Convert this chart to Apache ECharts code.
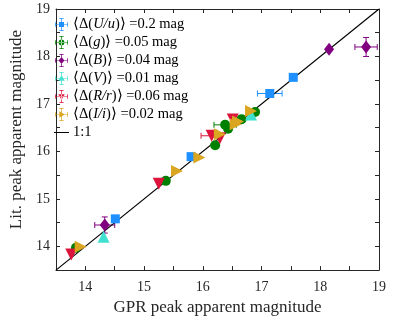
<!DOCTYPE html>
<html>
<head>
<meta charset="utf-8">
<script src="https://cdn.jsdelivr.net/npm/echarts@6/dist/echarts.min.js"></script>
<style>
  html, body { margin: 0; padding: 0; background: #fff; }
  #main { width: 395px; height: 321px; }
</style>
</head>
<body>
<div id="main"></div>
<script>
// data: [GPR mag, literature mag]
const uuPts = [[14.51, 14.58], [15.80, 15.89], [17.14, 17.22], [17.54, 17.56]]
const gPts  = [[13.84, 13.97], [15.37, 15.38], [16.21, 16.13], [16.38, 16.56], [16.43, 16.48], [16.66, 16.68], [16.89, 16.83]]
const bPts  = [[14.33, 14.45], [18.15, 18.15], [18.78, 18.20]]
const vPts  = [[14.31, 14.20], [16.82, 16.78]]
const rrPts = [[13.76, 13.83], [15.25, 15.32], [16.15, 16.33], [16.29, 16.28], [16.51, 16.67]]
const iiPts = [[13.92, 13.99], [15.56, 15.59], [15.94, 15.87], [16.29, 16.36], [16.56, 16.57], [16.60, 16.63], [16.82, 16.85]]

// error bars: [x, y, xerr, yerr]
const uuErr = [[17.14, 17.22, 0.21, 0]]
const gErr  = [[16.38, 16.56, 0.19, 0]]
const bErr  = [[14.33, 14.45, 0.17, 0.17], [18.78, 18.20, 0.19, 0.20]]
const rrErr = [[16.15, 16.33, 0.18, 0]]

const oneToOne = [[13.5, 13.5], [19, 19]]
const axisMin = 13.5
const axisMax = 19
const tickStep = 0.5

const legendLabels = {
  uu: '{a|⟨Δ(}{i|U/u}{a|)⟩ =0.2 mag}',
  g:  '{a|⟨Δ(}{i|g}{a|)⟩ =0.05 mag}',
  b:  '{a|⟨Δ(}{i|B}{a|)⟩ =0.04 mag}',
  v:  '{a|⟨Δ(}{i|V}{a|)⟩ =0.01 mag}',
  rr: '{a|⟨Δ(}{i|R/r}{a|)⟩ =0.06 mag}',
  ii: '{a|⟨Δ(}{i|I/i}{a|)⟩ =0.02 mag}',
  line: '{a|1:1}'
}

const colors = {
  uu: '#1e90ff', g: '#008000', b: '#800080',
  v: '#40e0d0', rr: '#dc143c', ii: '#daa520'
}

const font = 'Liberation Serif, Times New Roman, serif'
const axisColor = '#262626'

// legend icons: error bar cross with the marker in the middle
const cross = 'M1,9.5L19,9.5L19,10.5L1,10.5Z M9.5,1L10.5,1L10.5,19L9.5,19Z ' +
  'M1,7L2,7L2,13L1,13Z M18,7L19,7L19,13L18,13Z M7,1L13,1L13,2L7,2Z M7,18L13,18L13,19L7,19Z '
const icons = {
  uu: 'path://' + cross + 'M6.5,6.5L13.5,6.5L13.5,13.5L6.5,13.5Z',
  g:  'path://' + cross + 'M6,10A4,4 0 1,0 14,10A4,4 0 1,0 6,10Z',
  b:  'path://' + cross + 'M10,5L14,10L10,15L6,10Z',
  v:  'path://' + cross + 'M10,5.5L14.5,13L5.5,13Z',
  rr: 'path://' + cross + 'M10,14.5L14.5,7L5.5,7Z',
  ii: 'path://' + cross + 'M14.5,10L7,14.5L7,5.5Z',
  line: 'path://M0,9.3L20,9.3L20,10.7L0,10.7Z'
}

function errorSeries(data, color) {
  return {
    type: 'custom',
    data: data,
    z: 1,
    silent: true,
    renderItem: (params, api) => {
      const x = api.value(0), y = api.value(1), ex = api.value(2), ey = api.value(3)
      const style = { stroke: color, lineWidth: 1 }
      const cap = 3
      const kids = []
      if (ex > 0) {
        const l = api.coord([x - ex, y]), r = api.coord([x + ex, y])
        kids.push({ type: 'line', shape: { x1: l[0], y1: l[1], x2: r[0], y2: r[1] }, style })
        kids.push({ type: 'line', shape: { x1: l[0], y1: l[1] - cap, x2: l[0], y2: l[1] + cap }, style })
        kids.push({ type: 'line', shape: { x1: r[0], y1: r[1] - cap, x2: r[0], y2: r[1] + cap }, style })
      }
      if (ey > 0) {
        const b = api.coord([x, y - ey]), t = api.coord([x, y + ey])
        kids.push({ type: 'line', shape: { x1: b[0], y1: b[1], x2: t[0], y2: t[1] }, style })
        kids.push({ type: 'line', shape: { x1: b[0] - cap, y1: b[1], x2: b[0] + cap, y2: b[1] }, style })
        kids.push({ type: 'line', shape: { x1: t[0] - cap, y1: t[1], x2: t[0] + cap, y2: t[1] }, style })
      }
      return { type: 'group', children: kids }
    }
  }
}

function pointSeries(key, data, symbol, size, rotate) {
  return {
    name: key,
    type: 'scatter',
    data: data,
    symbol: symbol,
    symbolSize: size,
    symbolRotate: rotate || 0,
    z: 3,
    itemStyle: { color: colors[key], opacity: 1 }
  }
}

function makeAxis(pos, showLabel, name) {
  return {
    type: 'value',
    position: pos,
    min: axisMin,
    max: axisMax,
    interval: tickStep,
    name: name,
    nameLocation: 'middle',
    nameGap: pos === 'left' ? 31 : 21,
    nameTextStyle: {
      fontFamily: font, fontSize: 17, color: axisColor,
      padding: pos === 'left' ? [0, 0, 0, 20] : 0
    },
    axisLine: { show: true, onZero: false, lineStyle: { color: axisColor, width: 1 } },
    axisTick: { show: true, inside: true, length: 4, lineStyle: { color: axisColor } },
    axisLabel: {
      show: showLabel, fontFamily: font, fontSize: 14, color: axisColor,
      margin: pos === 'left' ? 6 : 10,
      formatter: v => Math.abs(v - Math.round(v)) < 1e-6 ? String(Math.round(v)) : ''
    },
    splitLine: { show: false }
  }
}

const option = {
  animation: false,
  grid: { left: 47, right: 16, top: 9, bottom: 43, containLabel: false },
  xAxis: [makeAxis('bottom', true, 'GPR peak apparent magnitude'), makeAxis('top', false, '')],
  yAxis: [makeAxis('left', true, 'Lit. peak apparent magnitude'), makeAxis('right', false, '')],
  legend: {
    orient: 'vertical',
    left: 54,
    top: 17,
    itemWidth: 15,
    itemHeight: 13,
    itemGap: 3,
    padding: 0,
    data: [
      { name: 'uu', icon: icons.uu },
      { name: 'g', icon: icons.g },
      { name: 'b', icon: icons.b },
      { name: 'v', icon: icons.v },
      { name: 'rr', icon: icons.rr },
      { name: 'ii', icon: icons.ii },
      { name: 'line', icon: icons.line }
    ],
    formatter: name => legendLabels[name],
    textStyle: {
      fontFamily: font, fontSize: 14.5, color: '#000', padding: [0, 0, 0, -1],
      rich: {
        a: { fontFamily: font, fontSize: 14.5, color: '#000' },
        i: { fontFamily: font, fontSize: 14.5, fontStyle: 'italic', color: '#000' }
      }
    }
  },
  series: [
    {
      name: 'line',
      type: 'line',
      data: oneToOne,
      symbol: 'none',
      z: 2,
      lineStyle: { color: '#000', width: 1.2 },
      itemStyle: { color: '#000' }
    },
    errorSeries(uuErr, colors.uu),
    errorSeries(gErr, colors.g),
    errorSeries(bErr, colors.b),
    errorSeries(rrErr, colors.rr),
    pointSeries('uu', uuPts, 'rect', 9),
    pointSeries('g', gPts, 'circle', 10),
    pointSeries('b', bPts, 'diamond', [10, 13]),
    pointSeries('v', vPts, 'triangle', 12),
    pointSeries('rr', rrPts, 'triangle', 12, 180),
    pointSeries('ii', iiPts, 'triangle', 12, -90)
  ]
}

const myChart = echarts.init(document.getElementById('main'))
myChart.setOption(option)
window.onresize = () => myChart.resize()
</script>
</body>
</html>
